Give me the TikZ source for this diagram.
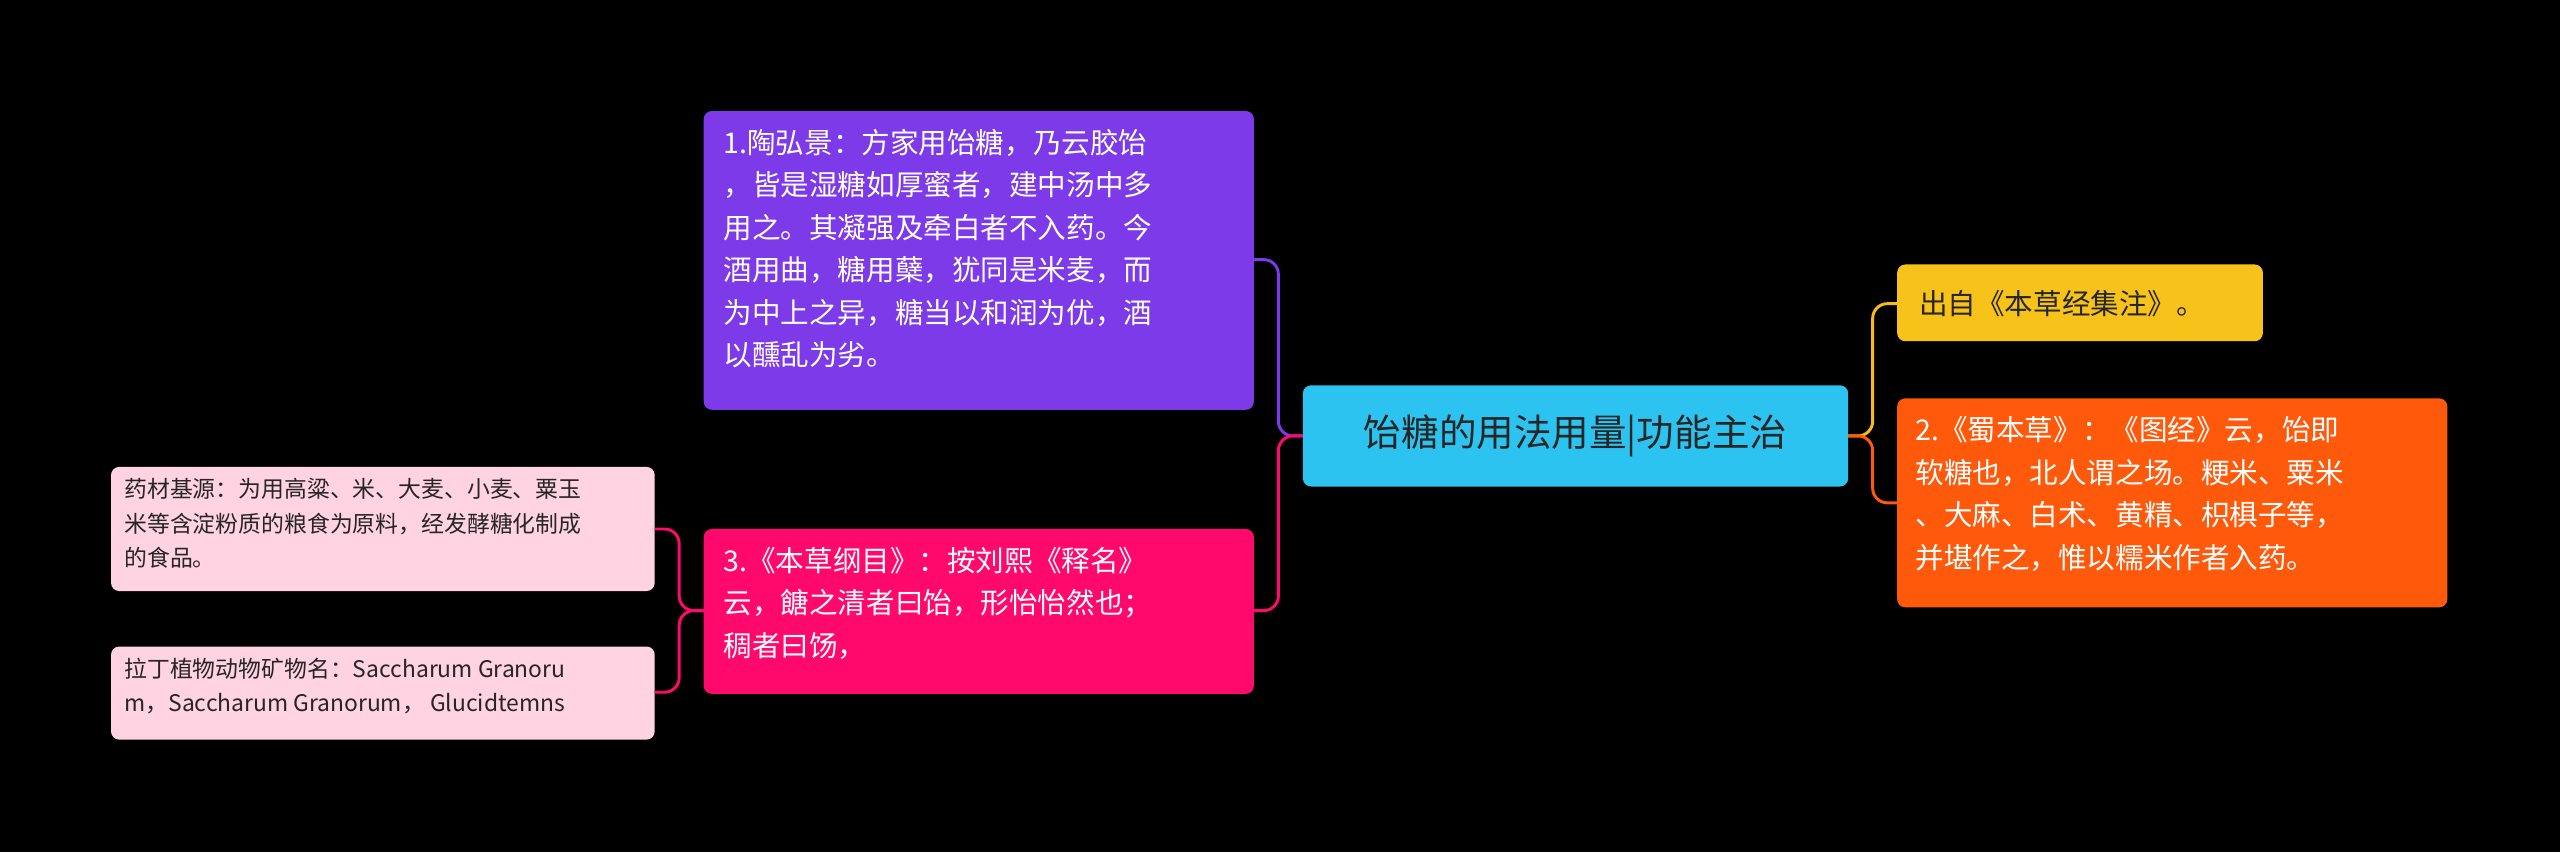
\documentclass[tikz,border=0pt]{standalone}
\usepackage{fontspec}
\setmainfont{Noto Sans CJK SC}
\begin{document}
\begin{tikzpicture}[x=1pt,y=-1pt,
  box/.style={rounded corners=5pt,inner sep=0pt,anchor=north west,align=left},
  big/.style={font=\fontsize{17.5}{26}\selectfont},
  small/.style={font=\fontsize{14}{21}\selectfont},
  conn/.style={line width=1.8pt,rounded corners=9pt}]
\fill[black] (0,0) rectangle (1568,522);
\useasboundingbox (0,0) rectangle (1568,522);
\definecolor{cy}{HTML}{2CC3F0}
\definecolor{pu}{HTML}{7C3AE8}
\definecolor{rd}{HTML}{FF0A6C}
\definecolor{lp}{HTML}{FFD3E2}
\definecolor{ye}{HTML}{F7C21A}
\definecolor{or}{HTML}{FF5A0C}
\path[box,fill=cy] (798,236) rectangle (1132,298);
\node (c) at (965,267) {\fontsize{23}{28}\selectfont\color{black!85}饴糖的用法用量|功能主治};
\coordinate (cw) at (798,267); \coordinate (ce) at (1132,267);
\fill[pu,rounded corners=5pt] (431,68) rectangle (768,251);
\node[box,big,text=white] (p) at (443,79) {1.陶弘景：方家用饴糖，乃云胶饴\\，皆是湿糖如厚蜜者，建中汤中多\\用之。其凝强及牵白者不入药。今\\酒用曲，糖用蘖，犹同是米麦，而\\为中上之异，糖当以和润为优，酒\\以醺乱为劣。};
\coordinate (pe) at (768,159);
\fill[rd,rounded corners=5pt] (431,324) rectangle (768,425);
\node[box,big,text=white] (r) at (443,335) {3.《本草纲目》：按刘熙《释名》\\云，餹之清者曰饴，形怡怡然也；\\稠者曰饧，};
\coordinate (re) at (768,374); \coordinate (rw) at (431,374);
\fill[lp,rounded corners=5pt] (68,286) rectangle (401,362);
\node[box,small,text=black!85] (l1) at (76,293) {药材基源：为用高粱、米、大麦、小麦、粟玉\\米等含淀粉质的粮食为原料，经发酵糖化制成\\的食品。};
\coordinate (l1e) at (401,324);
\fill[lp,rounded corners=5pt] (68,396) rectangle (401,453);
\node[box,small,text=black!85] (l2) at (76,403) {拉丁植物动物矿物名：Saccharum Granoru\\m，Saccharum Granorum， Glucidtemns};
\coordinate (l2e) at (401,424);
\fill[ye,rounded corners=5pt] (1162,162) rectangle (1386,209);
\node[anchor=west,big,text=black!85] (y) at (1172,186) {出自《本草经集注》。};
\coordinate (yw) at (1162,186);
\fill[or,rounded corners=5pt] (1162,244) rectangle (1499,372);
\node[box,big,text=white] (o) at (1173,255) {2.《蜀本草》：《图经》云，饴即\\软糖也，北人谓之场。粳米、粟米\\、大麻、白术、黄精、枳椇子等，\\并堪作之，惟以糯米作者入药。};
\coordinate (ow) at (1162,308);
\draw[conn,pu] (cw) -- (783,267) -- (783,159) -- (pe);
\draw[conn,rd] (cw) -- (783,267) -- (783,374) -- (re);
\draw[conn,ye!90!orange] (ce) -- (1147,267) -- (1147,186) -- (yw);
\draw[conn,or] (ce) -- (1147,267) -- (1147,308) -- (ow);
\draw[conn,rd] (rw) -- (416,374) -- (416,324) -- (l1e);
\draw[conn,rd] (rw) -- (416,374) -- (416,424) -- (l2e);
\end{tikzpicture}
\end{document}
